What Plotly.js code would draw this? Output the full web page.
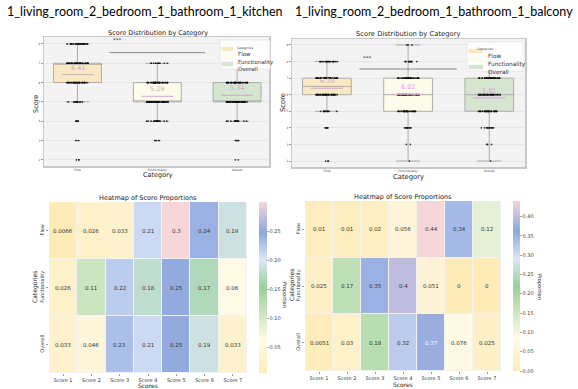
<!DOCTYPE html>
<html><head><meta charset="utf-8">
<script src="https://cdn.plot.ly/plotly-3.0.1.min.js"></script>
<style>html,body{margin:0;padding:0;background:#fff;}#chart{width:578px;height:389px;}</style>
</head><body><div id="chart"></div>
<script>
// ---------------- data ----------------
const chartTitles = ['1_living_room_2_bedroom_1_bathroom_1_kitchen', '1_living_room_2_bedroom_1_bathroom_1_balcony'];
const categories = ['Flow', 'Functionality', 'Overall'];
const scoreLevels = [2, 3, 4, 5, 6, 7, 8, 9];
// number of ratings at each score level (2..9)
const kitchenFlowCounts          = [3, 3, 6, 14, 42, 50, 28, 0];
const kitchenFunctionalityCounts = [0, 5, 18, 58, 47, 12, 0, 0];
const kitchenOverallCounts       = [2, 5, 16, 48, 48, 14, 0, 0];
const balconyFlowCounts          = [3, 0, 6, 13, 48, 48, 22, 0];
const balconyFunctionalityCounts = [1, 2, 10, 35, 40, 35, 12, 3];
const balconyOverallCounts       = [1, 3, 12, 38, 40, 40, 3, 0];
const kitchenMeans = [6.41, 5.29, 5.34];
const balconyMeans = [6.39, 6.02, 5.81];
const kitchenScoreTicks = [2, 3, 4, 5, 6, 7, 8];
const balconyScoreTicks = [2, 3, 4, 5, 6, 7, 8, 9];
const significanceLabel = '***';
const scoreLabels = ['Score 1', 'Score 2', 'Score 3', 'Score 4', 'Score 5', 'Score 6', 'Score 7'];
const kitchenFlowProps          = [0.0066, 0.026, 0.033, 0.21, 0.3, 0.24, 0.19];
const kitchenFunctionalityProps = [0.026, 0.11, 0.22, 0.18, 0.25, 0.17, 0.06];
const kitchenOverallProps       = [0.033, 0.046, 0.23, 0.21, 0.25, 0.19, 0.033];
const balconyFlowProps          = [0.01, 0.01, 0.02, 0.056, 0.44, 0.34, 0.12];
const balconyFunctionalityProps = [0.025, 0.17, 0.35, 0.4, 0.051, 0, 0];
const balconyOverallProps       = [0.0051, 0.03, 0.18, 0.32, 0.37, 0.076, 0.025];
const kitchenColorbarTicks = [0.05, 0.10, 0.15, 0.20, 0.25];
const balconyColorbarTicks = [0, 0.05, 0.10, 0.15, 0.20, 0.25, 0.30, 0.35, 0.40];

// ---------------- style ----------------
const W = 578, H = 389;
const PX = x => x / W, PY = y => 1 - y / H;
const FONT = 'DejaVu Sans, sans-serif';
const boxFills = ['#f8e9c3', '#fdfbea', '#d5e5d0'];
const meanColor = '#d9a3d6';
const colorscale = [
  [0, '#feebb8'], [0.2, '#fefbea'], [0.5, '#98d098'], [0.66, '#dce6f7'],
  [0.82, '#8ea8df'], [0.91, '#c0bce0'], [1, '#f6d6d9']
];

function expand(counts) {
  const out = [];
  counts.forEach((c, i) => { for (let k = 0; k < c; k++) out.push(scoreLevels[i]); });
  return out;
}

const traces = [];
const shapes = [];
const annotations = [];

function addBoxPanel(countSets, means, xa, ya, legendBox) {
  countSets.forEach((counts, i) => {
    const ys = expand(counts);
    traces.push({
      type: 'box', x: ys.map(() => categories[i]), y: ys, xaxis: xa, yaxis: ya,
      name: categories[i], boxpoints: 'all', jitter: 0.45, pointpos: 0, width: 0.6,
      fillcolor: boxFills[i], line: { color: '#acacac', width: 1 }, whiskerwidth: 0.5,
      marker: { color: '#111', size: 1.7, opacity: 0.85 }, showlegend: false, hoverinfo: 'skip'
    });
    shapes.push({ type: 'line', xref: xa, yref: ya, x0: i - 0.2, x1: i + 0.2, y0: means[i], y1: means[i],
      line: { color: meanColor, width: 1 }, layer: 'above' });
    annotations.push({ xref: xa, yref: ya, x: i, y: means[i], yshift: 7, text: means[i].toFixed(2),
      showarrow: false, font: { family: FONT, size: 6.5, color: meanColor } });
  });
  shapes.push({ type: 'line', xref: xa, yref: ya, x0: 0.4, x1: 1.6, y0: 7.55, y1: 7.55,
    line: { color: '#888', width: 1 }, layer: 'above' });
  annotations.push({ xref: xa, yref: ya, x: 0.5, y: 8.22, text: significanceLabel, showarrow: false,
    font: { family: FONT, size: 5.5, color: '#333' } });
  // legend
  const L = legendBox;
  shapes.push({ type: 'rect', xref: 'paper', yref: 'paper', x0: PX(L.x0), x1: PX(L.x1), y0: PY(L.y1), y1: PY(L.y0),
    fillcolor: 'rgba(255,255,255,0.92)', line: { color: '#dddddd', width: 0.6 }, layer: 'above' });
  annotations.push({ xref: 'paper', yref: 'paper', x: PX((L.x0 + L.x1) / 2), y: PY(L.y0 + 3.5), text: 'Categories',
    showarrow: false, font: { family: FONT, size: 3, color: '#444' } });
  categories.forEach((c, i) => {
    const cy = L.rowY[i];
    shapes.push({ type: 'rect', xref: 'paper', yref: 'paper', x0: PX(L.x0 + 1.5), x1: PX(L.patchX1),
      y0: PY(cy + 2.2), y1: PY(cy - 2.2), fillcolor: boxFills[i], line: { width: 0 }, layer: 'above' });
    annotations.push({ xref: 'paper', yref: 'paper', x: PX(L.patchX1 + 2.5), y: PY(cy), xanchor: 'left', text: c,
      showarrow: false, font: { family: FONT, size: L.fs, color: '#333' } });
  });
}

addBoxPanel([kitchenFlowCounts, kitchenFunctionalityCounts, kitchenOverallCounts], kitchenMeans, 'x', 'y',
  { x0: 220, x1: 270, y0: 40, y1: 69, patchX1: 233, rowY: [49, 57, 64], fs: 5.5 });
addBoxPanel([balconyFlowCounts, balconyFunctionalityCounts, balconyOverallCounts], balconyMeans, 'x2', 'y2',
  { x0: 467, x1: 524, y0: 42, y1: 71, patchX1: 483, rowY: [51, 59, 67], fs: 5.8 });

function addHeatmap(z, xa, ya, cb, ticks, whiteTest) {
  traces.push({
    type: 'heatmap', z: z, x: scoreLabels, y: categories, xaxis: xa, yaxis: ya,
    colorscale: colorscale, xgap: 1, ygap: 1, hoverinfo: 'skip',
    colorbar: { x: PX(cb.x), xanchor: 'left', xpad: 0, y: PY(cb.top), yanchor: 'top', ypad: 0,
      len: cb.len / H, lenmode: 'fraction', thickness: cb.th, outlinewidth: 0,
      ticks: 'outside', ticklen: 2, tickcolor: '#666', tickwidth: 0.6, tickvals: ticks,
      ticktext: ticks.map(t => t.toFixed(2)), tickfont: { family: FONT, size: 5, color: '#444' } }
  });
  z.forEach((row, r) => row.forEach((v, c) => {
    annotations.push({ xref: xa, yref: ya, x: scoreLabels[c], y: categories[r], text: String(v),
      showarrow: false, font: { family: FONT, size: 5.5, color: whiteTest(v) ? '#ffffff' : '#333' } });
  }));
}
addHeatmap([kitchenFlowProps, kitchenFunctionalityProps, kitchenOverallProps], 'x3', 'y3',
  { x: 259, top: 202, len: 171, th: 8 }, kitchenColorbarTicks, v => false);
addHeatmap([balconyFlowProps, balconyFunctionalityProps, balconyOverallProps], 'x4', 'y4',
  { x: 513, top: 201, len: 170, th: 7 }, balconyColorbarTicks, v => v > 0.36 && v < 0.39);

function txt(x, y, text, size, opts) {
  annotations.push(Object.assign({ xref: 'paper', yref: 'paper', x: PX(x), y: PY(y), text: text, showarrow: false,
    xanchor: 'center', yanchor: 'middle', font: { family: FONT, size: size, color: '#222' } }, opts || {}));
}
txt(145, 12, chartTitles[0], 12.5, { font: { family: 'Lato, sans-serif', size: 12.5, color: '#000' } });
txt(434, 12, chartTitles[1], 12.5, { font: { family: 'Lato, sans-serif', size: 12.5, color: '#000' } });
txt(158, 32.5, 'Score Distribution by Category', 6.5);
txt(408, 33.5, 'Score Distribution by Category', 6.8);
txt(158, 175, 'Category', 6.5);
txt(408, 177, 'Category', 6.8);
txt(36, 104, 'Score', 6.5, { textangle: -90 });
txt(283, 103, 'Score', 6.8, { textangle: -90 });
txt(148, 197.5, 'Heatmap of Score Proportions', 6.5);
txt(403, 196.5, 'Heatmap of Score Proportions', 6.5);
txt(148, 385, 'Scores', 6);
txt(403, 384, 'Scores', 6);
txt(35, 287, 'Categories', 6, { textangle: -90 });
txt(292, 285, 'Categories', 6, { textangle: -90 });
txt(285, 295, 'Proportion', 5, { textangle: 90 });
txt(540, 287, 'Proportion', 5, { textangle: 90 });

const boxX = (dom, range) => ({ domain: dom, range: range, type: 'category', categoryarray: categories,
  showgrid: false, zeroline: false, showline: true, mirror: true, linecolor: '#c9c9c9', linewidth: 1.5,
  ticks: '', tickfont: { family: FONT, size: 3, color: '#444' }, fixedrange: true });
const boxY = (dom, range, tv) => ({ domain: dom, range: range, tickvals: tv, showgrid: true, gridcolor: '#e3e3e3',
  gridwidth: 0.8, zeroline: false, showline: true, mirror: true, linecolor: '#c9c9c9', linewidth: 1.5,
  ticks: 'outside', ticklen: 1.5, tickcolor: '#999', tickfont: { family: FONT, size: 3, color: '#444' }, fixedrange: true });
const hmX = dom => ({ domain: dom, showgrid: false, zeroline: false, showline: false, ticks: 'outside', ticklen: 2,
  tickcolor: '#555', tickwidth: 0.6, tickfont: { family: FONT, size: 5, color: '#333' }, fixedrange: true });
const hmY = dom => ({ domain: dom, autorange: 'reversed', showgrid: false, zeroline: false, showline: false,
  ticks: 'outside', ticklen: 2, tickcolor: '#555', tickwidth: 0.6, tickangle: -90,
  tickfont: { family: FONT, size: 5, color: '#333' }, fixedrange: true });

const layout = {
  width: W, height: H, margin: { l: 0, r: 0, t: 0, b: 0 }, paper_bgcolor: '#ffffff', plot_bgcolor: '#f3f3f3',
  font: { family: FONT }, showlegend: false, boxmode: 'overlay', boxgap: 0.4,
  xaxis: Object.assign(boxX([PX(44), PX(269)], [-0.42, 2.4]), { anchor: 'y' }),
  yaxis: Object.assign(boxY([PY(166), PY(37)], [1.68, 8.36], kitchenScoreTicks), { anchor: 'x' }),
  xaxis2: Object.assign(boxX([PX(292), PX(525)], [-0.43, 2.44]), { anchor: 'y2' }),
  yaxis2: Object.assign(boxY([PY(167), PY(39)], [1.64, 9.36], balconyScoreTicks), { anchor: 'x2' }),
  xaxis3: Object.assign(hmX([PX(49), PX(247)]), { anchor: 'y3' }),
  yaxis3: Object.assign(hmY([PY(373), PY(202)]), { anchor: 'x3' }),
  xaxis4: Object.assign(hmX([PX(305), PX(501)]), { anchor: 'y4' }),
  yaxis4: Object.assign(hmY([PY(371), PY(201)]), { anchor: 'x4' }),
  shapes: shapes, annotations: annotations
};

Plotly.newPlot('chart', traces, layout, { staticPlot: true, displayModeBar: false });
</script></body></html>
